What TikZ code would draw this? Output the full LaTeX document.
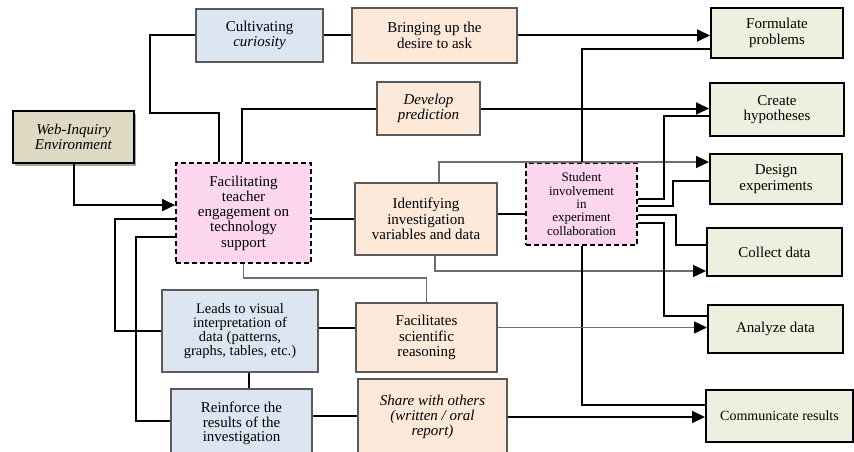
\documentclass[tikz,border=0pt]{standalone}
\usepackage{fontspec}
\setmainfont{Liberation Serif}
\usetikzlibrary{arrows.meta,calc,shadows}
\definecolor{bluefill}{HTML}{DCE6F2}
\definecolor{peachfill}{HTML}{FDE9D9}
\definecolor{greenfill}{HTML}{EBF1DE}
\definecolor{tanfill}{HTML}{DDD9C3}
\definecolor{pinkfill}{HTML}{FCD5EF}
\definecolor{boxgray}{HTML}{5A5A5A}
\definecolor{linegray}{HTML}{6E6E6E}
\begin{document}
\begin{tikzpicture}[x=1pt,y=-1pt,
  box/.style={rectangle, align=center, inner sep=2pt, font=\fontsize{15}{15.3}\selectfont},
  bluebox/.style={box, fill=bluefill, draw=boxgray, line width=1.4pt},
  peachbox/.style={box, fill=peachfill, draw=boxgray, line width=1.4pt},
  greenbox/.style={box, fill=greenfill, draw=black, line width=2pt},
  pinkbox/.style={box, fill=pinkfill, draw=black, line width=1.9pt, dash pattern=on 5pt off 3pt},
  webbox/.style={box, fill=tanfill, draw=black, line width=2.1pt,
    drop shadow={shadow xshift=2pt, shadow yshift=-2.5pt, opacity=0.35, fill=black}},
  conn/.style={line width=2pt, black},
  connarr/.style={conn, -{Triangle[length=13pt,width=12pt]}},
  gconn/.style={line width=1.3pt, linegray},
  gconnarr/.style={gconn, -{Triangle[length=13pt,width=12pt,color=black]}},
]
\useasboundingbox (0,0) rectangle (854,452);
\fill[white] (0,0) rectangle (854,452);

% nodes
\node[bluebox, minimum width=127pt, minimum height=53pt] (cult) at (259.5,35.5) {Cultivating\\ \textit{curiosity}};
\node[peachbox, minimum width=165pt, minimum height=55pt] (bring) at (434.5,35.5) {Bringing up the\\ desire to ask};
\node[peachbox, minimum width=103pt, minimum height=53pt] (dev) at (428.5,108.5) {\textit{Develop}\\ \textit{prediction}};
\node[webbox, minimum width=121pt, minimum height=52pt] (web) at (73.5,137) {\textit{Web-Inquiry}\\ \textit{Environment}};
\node[pinkbox, minimum width=135pt, minimum height=100pt] (fac) at (243.5,213) {Facilitating\\ teacher\\ engagement on\\ technology\\ support};
\node[peachbox, minimum width=142pt, minimum height=72pt] (ident) at (426,219) {Identifying\\ investigation\\ variables and data};
\node[pinkbox, minimum width=111pt, minimum height=82pt, font=\fontsize{13}{13.3}\selectfont] (stud) at (581.5,204) {Student\\ involvement\\ in\\ experiment\\ collaboration};
\node[greenbox, minimum width=132pt, minimum height=50pt] (form) at (777,33) {Formulate\\ problems};
\node[greenbox, minimum width=134pt, minimum height=53pt] (hyp) at (777,109.5) {Create\\ hypotheses};
\node[greenbox, minimum width=132pt, minimum height=50pt] (design) at (776,179) {Design\\ experiments};
\node[greenbox, minimum width=135pt, minimum height=48pt] (collect) at (774.5,252) {Collect data};
\node[greenbox, minimum width=135pt, minimum height=48pt] (analyze) at (775.5,329) {Analyze data};
\node[greenbox, minimum width=147pt, minimum height=52pt, font=\fontsize{14}{15}\selectfont] (comm) at (779.5,416) {Communicate results};
\node[bluebox, minimum width=156pt, minimum height=82pt, font=\fontsize{14.5}{14}\selectfont] (leads) at (240,331) {Leads to visual\\ interpretation of\\ data (patterns,\\ graphs, tables, etc.)};
\node[bluebox, minimum width=141pt, minimum height=69pt, font=\fontsize{15}{14.2}\selectfont] (reinf) at (241.5,423.5) {Reinforce the\\ results of the\\ investigation};
\node[peachbox, minimum width=141pt, minimum height=69pt] (facsr) at (426.5,337.5) {Facilitates\\ scientific\\ reasoning};
\node[peachbox, minimum width=149pt, minimum height=76pt] (share) at (432.5,417) {\textit{Share with others}\\ \textit{(written / oral}\\ \textit{report)}};

% connectors
\draw[conn] (cult.east) -- (bring.west);
\draw[connarr] (bring.east) -- (bring.east -| form.west);
\draw[conn] (cult.west) -| (150,113) -| ($(fac.north west)+(44,0)$);
\draw[conn] (dev.west) -| ($(fac.north west)+(67,0)$);
\draw[connarr] (dev.east) -- (dev.east -| hyp.west);
\draw[connarr] (web.south) |- ($(fac.north west)+(0,43)$);
\draw[conn] ($(fac.north west)+(0,57)$) -| ($(leads.west)+(-46,0)$) -- (leads.west);
\draw[conn] ($(fac.north west)+(0,75)$) -| ($(reinf.west)+(-34,-2.5)$) -- ($(reinf.west)+(0,-2.5)$);
\draw[conn] (fac.east |- ident.west) -- (ident.west);
\draw[gconn] (fac.south) -- ++(0,14) -| (facsr.north);
\draw[gconnarr] ($(ident.north)+(13,0)$) |- ($(design.north west)+(0,9)$);
\draw[conn] ($(ident.east)+(0,-5)$) -- ($(stud.west)+(0,10)$);
\draw[gconnarr] ($(ident.south)+(9,0)$) |- ($(collect.west)+(0,19)$);
\draw[conn] (stud.north) |- ($(form.west)+(0,16)$);
\draw[conn] ($(stud.east)+(0,-5)$) -- ++(26,0) |- ($(hyp.west)+(0,6.5)$);
\draw[conn] ($(stud.east)+(0,2)$) -- ++(35,0) |- ($(design.west)+(0,2)$);
\draw[conn] ($(stud.east)+(0,11)$) -- ++(38,0) |- ($(collect.west)+(0,-7)$);
\draw[conn] ($(stud.east)+(0,19)$) -- ++(26,0) |- ($(analyze.west)+(0,-13)$);
\draw[conn] (stud.south) |- ($(comm.west)+(0,-11)$);
\draw[gconnarr] ($(facsr.east)+(0,-10)$) -- ($(analyze.west)+(0,-1.5)$);
\draw[connarr] (share.east) -- (share.east -| comm.west);
\draw[conn] ($(leads.east)+(0,-3)$) -- ($(facsr.west)+(0,-9.5)$);
\draw[conn] ($(leads.south)+(9,0)$) -- ($(reinf.north)+(7.5,0)$);
\draw[conn] ($(reinf.east)+(0,-7.5)$) -- ($(share.west)+(0,-1)$);
\end{tikzpicture}
\end{document}
